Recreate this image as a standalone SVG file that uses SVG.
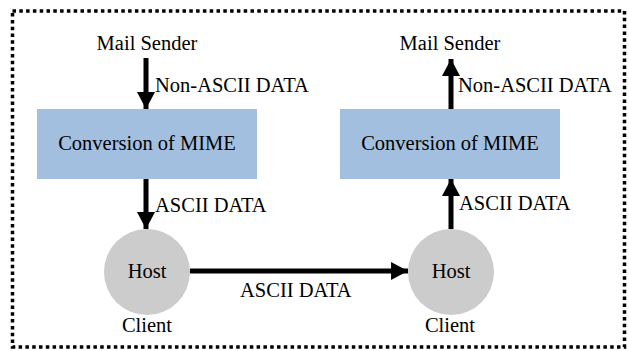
<svg xmlns="http://www.w3.org/2000/svg" width="629" height="351" viewBox="0 0 629 351">
  <defs>
    <marker id="head" markerUnits="userSpaceOnUse" markerWidth="18" markerHeight="18" viewBox="0 0 16 17" refX="16" refY="8.5" orient="auto">
      <polygon points="0,0 16,8.5 0,17" fill="#000"/>
    </marker>
  </defs>

  <!-- dotted frame -->
  <rect x="12.5" y="11" width="612" height="336" fill="none" stroke="#000" stroke-width="3.5" stroke-dasharray="3.5 3.3"/>

  <!-- connectors -->
  <g id="connectors" stroke="#000" stroke-width="5" fill="none">
    <line x1="146" y1="58" x2="146" y2="109" marker-end="url(#head)"/>
    <line x1="146" y1="179" x2="146" y2="229" marker-end="url(#head)"/>
    <line x1="190" y1="271" x2="408" y2="271" marker-end="url(#head)"/>
    <line x1="451" y1="229" x2="451" y2="179" marker-end="url(#head)"/>
    <line x1="451" y1="109" x2="451" y2="59" marker-end="url(#head)"/>
  </g>
  <!-- connector labels -->
  <g id="connector-labels" fill="#000">
    <text x="155" y="92" font-family="Times New Roman, Liberation Serif, serif" font-size="20.5">Non-ASCII DATA</text>
    <text x="155" y="212" font-family="Times New Roman, Liberation Serif, serif" font-size="20.5">ASCII DATA</text>
    <text x="240" y="297" font-family="Times New Roman, Liberation Serif, serif" font-size="20.5">ASCII DATA</text>
    <text x="459" y="210" font-family="Times New Roman, Liberation Serif, serif" font-size="20.5">ASCII DATA</text>
    <text x="458" y="92" font-family="Times New Roman, Liberation Serif, serif" font-size="20.5">Non-ASCII DATA</text>
  </g>

  <g id="sender-left">
    <text x="147" y="50" text-anchor="middle" font-family="Times New Roman, Liberation Serif, serif" font-size="20.5">Mail Sender</text>
  </g>
  <g id="mime-left">
    <rect x="37" y="109" width="220" height="70" fill="#a3bfe0"/>
    <text x="147" y="150" text-anchor="middle" font-family="Times New Roman, Liberation Serif, serif" font-size="20.5">Conversion of MIME</text>
  </g>
  <g id="host-left">
    <circle cx="147" cy="272" r="43" fill="#cccccc"/>
    <text x="147" y="278" text-anchor="middle" font-family="Times New Roman, Liberation Serif, serif" font-size="20.5">Host</text>
    <text x="147" y="332" text-anchor="middle" font-family="Times New Roman, Liberation Serif, serif" font-size="20.5">Client</text>
  </g>

  <g id="sender-right">
    <text x="450" y="50" text-anchor="middle" font-family="Times New Roman, Liberation Serif, serif" font-size="20.5">Mail Sender</text>
  </g>
  <g id="mime-right">
    <rect x="340" y="109" width="220" height="70" fill="#a3bfe0"/>
    <text x="450" y="150" text-anchor="middle" font-family="Times New Roman, Liberation Serif, serif" font-size="20.5">Conversion of MIME</text>
  </g>
  <g id="host-right">
    <circle cx="451" cy="272" r="43" fill="#cccccc"/>
    <text x="451" y="278" text-anchor="middle" font-family="Times New Roman, Liberation Serif, serif" font-size="20.5">Host</text>
    <text x="450" y="332" text-anchor="middle" font-family="Times New Roman, Liberation Serif, serif" font-size="20.5">Client</text>
  </g>
</svg>
